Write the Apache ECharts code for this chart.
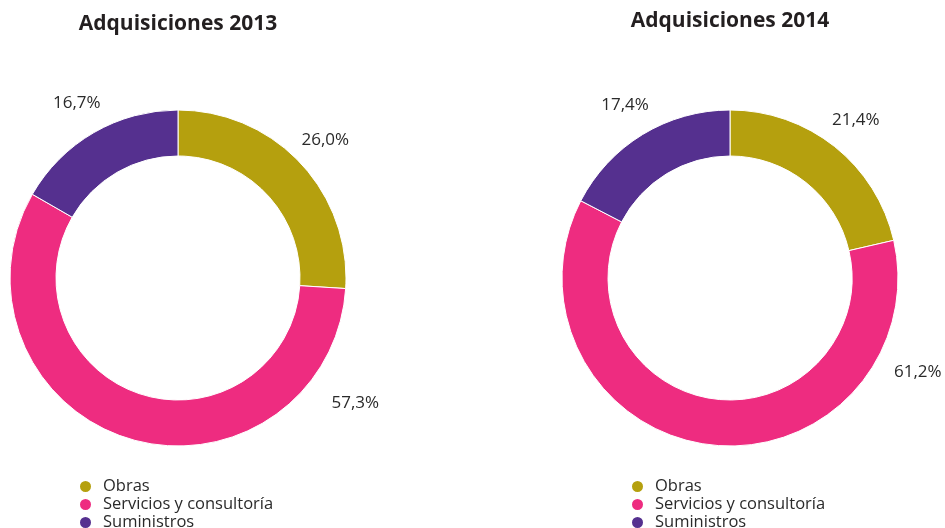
<!DOCTYPE html>
<html>
<head>
<meta charset="utf-8">
<script src="https://cdn.jsdelivr.net/npm/echarts@6/dist/echarts.min.js"></script>
<style>html,body{margin:0;padding:0;background:#fff}#c{width:945px;height:528px}</style>
</head>
<body>
<div id="c"></div>
<script>
var categories = ['Obras', 'Servicios y consultoría', 'Suministros'];
var values2013 = [26.0, 57.3, 16.7];
var values2014 = [21.4, 61.2, 17.4];
var titles = ['Adquisiciones 2013', 'Adquisiciones 2014'];
var colors = ['#B5A00E', '#EE2C80', '#55308F'];

var FONT = 'Open Sans';
var centers = [[178, 278], [730, 278]];
var R_IN = 122, R_OUT = 168, R_LABEL = 202;
// label placement override (angle clockwise from top, radius) for the large slice
var labelOverride = [{1: [125.2, 217]}, {1: [116.6, 210]}];

function midAngles(vals) {
  var total = vals.reduce(function (a, b) { return a + b; }, 0);
  var acc = 0, out = [];
  vals.forEach(function (v) { out.push((acc + v / 2) / total * 360); acc += v; });
  return out;
}
var allVals = [values2013, values2014];
var mids = allVals.map(midAngles);

function mkSeries(i) {
  return {
    type: 'pie',
    center: centers[i],
    radius: [R_IN, R_OUT],
    startAngle: 90,
    clockwise: true,
    avoidLabelOverlap: false,
    itemStyle: { borderColor: '#fff', borderWidth: 1 },
    label: {
      show: true,
      position: 'outside',
      fontFamily: FONT,
      fontSize: 17,
      color: '#2a2a2a',
      formatter: function (p) { return p.value.toFixed(1).replace('.', ',') + '%'; }
    },
    labelLine: { show: false },
    labelLayout: function (p) {
      var j = p.dataIndex;
      var o = labelOverride[i][j];
      var a = o ? o[0] : mids[i][j];
      var r = o ? o[1] : R_LABEL;
      var rad = a * Math.PI / 180;
      return {
        x: centers[i][0] + r * Math.sin(rad),
        y: centers[i][1] - r * Math.cos(rad),
        align: 'center',
        verticalAlign: 'middle'
      };
    },
    emphasis: { disabled: true },
    data: categories.map(function (c, j) {
      return { name: c, value: allVals[i][j], itemStyle: { color: colors[j] } };
    })
  };
}

function mkLegend(left) {
  return { data: categories, orient: 'vertical', left: left, top: 478, height: 120,
    icon: 'circle', itemWidth: 13, itemHeight: 13, itemGap: 1, selectedMode: false, padding: 0,
    textStyle: { fontFamily: FONT, fontSize: 16.5, color: '#2a2a2a', padding: [0, 0, 0, 6] } };
}

var chart = echarts.init(document.getElementById('c'), null, { renderer: 'canvas' });
chart.setOption({
  animation: false,
  title: [
    { text: titles[0], left: centers[0][0], top: 14, textAlign: 'center', padding: 0,
      textStyle: { fontFamily: FONT, fontWeight: 'bold', fontSize: 21, color: '#231f20' } },
    { text: titles[1], left: centers[1][0], top: 11, textAlign: 'center', padding: 0,
      textStyle: { fontFamily: FONT, fontWeight: 'bold', fontSize: 21, color: '#231f20' } }
  ],
  legend: [mkLegend(78), mkLegend(630)],
  series: [mkSeries(0), mkSeries(1)]
});
</script>
</body>
</html>
